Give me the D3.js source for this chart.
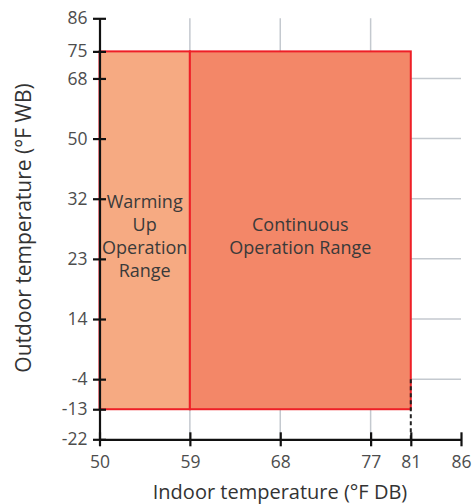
<!DOCTYPE html>
<html>
<head>
<meta charset="utf-8">
<script src="https://cdn.jsdelivr.net/npm/d3@7/dist/d3.min.js"></script>
<style>
html,body{margin:0;padding:0;background:#fff;}
svg{display:block;font-family:"Open Sans","Noto Sans",sans-serif;}
</style>
</head>
<body>
<svg id="chart" width="474" height="504"></svg>
<script>
// ---- data ----
const xTicks = [50, 59, 68, 77, 81, 86];
const yTicks = [86, 75, 68, 50, 32, 23, 14, -4, -13, -22];
const xGrid = [59, 68, 77];
const yGrid = [68, 50, 32, 23, 14, -4];
const rangeNames = [["Warming", "Up", "Operation", "Range"], ["Continuous", "Operation Range"]];
const rangeX0 = [50, 59];
const rangeX1 = [59, 81];
const rangeY0 = [-13, -13];
const rangeY1 = [75, 75];
const rangeFill = ["#f6aa82", "#f38768"];
const limitX = 81, limitYTop = -4, limitYBottom = -22;
const xTitle = "Indoor temperature (°F DB)";
const yTitle = "Outdoor temperature (°F WB)";

// ---- layout ----
const svg = d3.select("#chart");
const mLeft = 99.5, mRight = 461, mTop = 18.3, mBottom = 439.3;
const x = d3.scaleLinear().domain([50, 86]).range([mLeft, mRight]);
// non-linear y axis: tick slots (unit steps)
const ySlots = [14, 12.9, 12, 10, 8, 6, 4, 2, 1, 0];
const slotPx = (mBottom - mTop) / 14;
const y = d3.scaleLinear().domain(yTicks).range(ySlots.map(s => mBottom - s * slotPx));

// grid
const g = svg.append("g");
g.selectAll("line.vg").data(xGrid).join("line")
  .attr("x1", d => x(d)).attr("x2", d => x(d))
  .attr("y1", y(86)).attr("y2", y(-22))
  .attr("stroke", "#c4c9cf").attr("stroke-width", 1.5);
g.selectAll("line.hg").data(yGrid).join("line")
  .attr("x1", x(50)).attr("x2", x(86))
  .attr("y1", d => y(d)).attr("y2", d => y(d))
  .attr("stroke", "#c4c9cf").attr("stroke-width", 1.5);

// ranges
const idx = d3.range(rangeNames.length);
svg.selectAll("rect.range").data(idx).join("rect")
  .attr("x", i => x(rangeX0[i])).attr("width", i => x(rangeX1[i]) - x(rangeX0[i]))
  .attr("y", i => y(rangeY1[i])).attr("height", i => y(rangeY0[i]) - y(rangeY1[i]))
  .attr("fill", i => rangeFill[i])
  .attr("stroke", "#ee1f27").attr("stroke-width", 2);

// dashed limit line
svg.append("line")
  .attr("x1", x(limitX)).attr("x2", x(limitX))
  .attr("y1", y(limitYTop)).attr("y2", y(limitYBottom))
  .attr("stroke", "#222").attr("stroke-width", 2).attr("stroke-dasharray", "4,3");

// range labels
const lineH = 23;
idx.forEach(i => {
  const cx = (x(rangeX0[i]) + x(rangeX1[i])) / 2;
  const cy = (y(32) + y(23)) / 2 + 14;
  const lines = rangeNames[i];
  const t = svg.append("text").attr("text-anchor", "middle")
    .attr("font-size", 18).attr("fill", "#3a3a3a");
  lines.forEach((s, k) => {
    t.append("tspan").attr("x", cx)
      .attr("y", cy + (k - (lines.length - 1) / 2) * lineH)
      .text(s);
  });
});

// axes
const fmt = d => String(d);
const xAxis = d3.axisBottom(x).tickValues(xTicks).tickFormat(fmt).tickSize(0).tickPadding(16);
const gx = svg.append("g").attr("transform", `translate(0,${mBottom})`).call(xAxis);
gx.select(".domain").attr("stroke", "#111").attr("stroke-width", 2.2);
gx.selectAll(".tick").append("line").attr("y1", -7).attr("y2", 7)
  .attr("stroke", "#111").attr("stroke-width", 2.2);
gx.selectAll("text").attr("font-size", 17.5).attr("fill", "#4d4d4d")
  .attr("font-family", "Open Sans, Noto Sans, sans-serif");

const yAxis = d3.axisLeft(y).tickValues(yTicks).tickFormat(fmt).tickSize(0).tickPadding(12);
const gy = svg.append("g").attr("transform", `translate(${mLeft},0)`).call(yAxis);
gy.select(".domain").attr("stroke", "#111").attr("stroke-width", 2.2);
gy.selectAll(".tick").append("line").attr("x1", -6.5).attr("x2", 6.5)
  .attr("stroke", "#111").attr("stroke-width", 2.2);
gy.selectAll("text").attr("font-size", 17.5).attr("fill", "#4d4d4d")
  .attr("font-family", "Open Sans, Noto Sans, sans-serif");

// titles
svg.append("text").attr("x", 280).attr("y", 499).attr("text-anchor", "middle")
  .attr("font-size", 20).attr("fill", "#333").text(xTitle);
svg.append("text").attr("transform", "translate(31,228) rotate(-90)")
  .attr("text-anchor", "middle").attr("font-size", 21).attr("fill", "#333").text(yTitle);
</script>
</body>
</html>
